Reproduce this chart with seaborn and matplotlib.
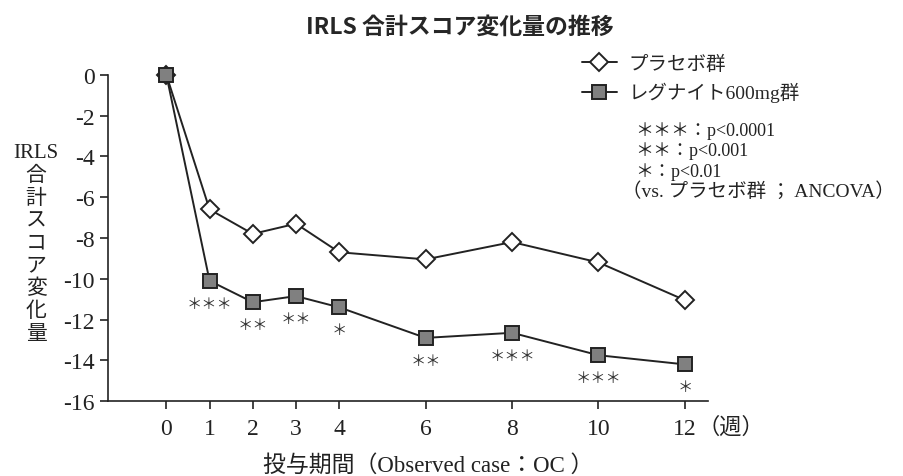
import matplotlib
matplotlib.use("Agg")
import matplotlib.pyplot as plt
import pandas as pd
import seaborn as sns

# data
weeks = [0, 1, 2, 3, 4, 6, 8, 10, 12]
placebo = [0, -6.6, -7.8, -7.3, -8.7, -9.05, -8.2, -9.2, -11.05]
regnite = [0, -10.1, -11.15, -10.85, -11.4, -12.9, -12.65, -13.75, -14.2]
stars = ['', '＊＊＊', '＊＊', '＊＊', '＊', '＊＊', '＊＊＊', '＊＊＊', '＊']
y_ticks = [0, -2, -4, -6, -8, -10, -12, -14, -16]
note_lines = ['＊＊＊：p<0.0001', '＊＊：p<0.001', '＊：p<0.01', '（vs. プラセボ群 ； ANCOVA）']

sns.set_theme(style="ticks")
plt.rcParams['font.family'] = ['Liberation Serif', 'Noto Sans CJK JP']
plt.rcParams['axes.unicode_minus'] = False
JP = ['Liberation Serif', 'Noto Sans CJK JP']

df = pd.DataFrame({'week': weeks * 2,
                   'score': placebo + regnite,
                   'group': ['プラセボ群'] * len(weeks) + ['レグナイト600mg群'] * len(weeks)})

fig = plt.figure(figsize=(9.04, 4.77), dpi=100)
ax = fig.add_axes([0.119, 0.157, 0.664, 0.684])

line_col = '#222222'
sns.lineplot(data=df[df.group == 'プラセボ群'], x='week', y='score', ax=ax,
             color=line_col, linewidth=1.4, marker='D', markersize=9.5,
             markerfacecolor='white', markeredgecolor=line_col, markeredgewidth=1.4,
             clip_on=False, zorder=3, label='プラセボ群')
sns.lineplot(data=df[df.group == 'レグナイト600mg群'], x='week', y='score', ax=ax,
             color=line_col, linewidth=1.4, marker='s', markersize=10,
             markerfacecolor='#808080', markeredgecolor=line_col, markeredgewidth=1.4,
             clip_on=False, zorder=4, label='レグナイト600mg群')

for w, v, s in zip(weeks, regnite, stars):
    if s:
        ax.annotate(s, xy=(w, v), xytext=(0, -10), textcoords='offset points',
                    ha='center', va='top', fontsize=11, color='#333333',
                    family='Noto Sans CJK JP')

ax.set_xlim(-1.36, 12.53)
ax.set_ylim(-16, 0)
ax.set_xticks(weeks)
ax.set_yticks(y_ticks)
ax.tick_params(labelsize=17, length=6, width=1.2, color=line_col, labelcolor='#222222')
ax.tick_params(axis='x', pad=6)
ax.tick_params(axis='y', pad=3)
for sp in ['top', 'right']:
    ax.spines[sp].set_visible(False)
for sp in ['left', 'bottom']:
    ax.spines[sp].set_linewidth(1.2)
    ax.spines[sp].set_color(line_col)

ax.set_xlabel('')
ax.set_ylabel('')
fig.text(0.474, 0.024, '投与期間（Observed case：OC ）', ha='center', va='center',
         fontsize=16.5, family=JP, color='#222222')
fig.text(0.04, 0.487, 'IRLS\n合\n計\nス\nコ\nア\n変\n化\n量', ha='center', va='center',
         fontsize=15, family=JP, color='#222222', linespacing=1.25)
ax.text(0.982, -0.08, '（週）', transform=ax.transAxes, ha='left', va='center',
        fontsize=16, family=JP, color='#222222')

fig.text(0.509, 0.943, 'IRLS 合計スコア変化量の推移', ha='center', va='center',
         fontsize=16.5, fontweight='bold', family='Noto Sans CJK JP')

leg = ax.legend(loc='upper left', bbox_to_anchor=(0.624, 0.919),
                bbox_transform=fig.transFigure, frameon=False, fontsize=14,
                handlelength=1.8, labelspacing=0.45, handletextpad=0.6)
for t in leg.get_texts():
    t.set_family(JP)

# significance notes, one text per line
for i, line in enumerate(note_lines):
    x0 = 0.703 if i < 3 else 0.688
    fs = 13 if i < 3 else 14
    fig.text(x0, 0.725 - i * 0.0425, line, ha='left', va='center', fontsize=fs,
             family=JP, color='#222222')

fig.savefig('out.png', dpi=100)
